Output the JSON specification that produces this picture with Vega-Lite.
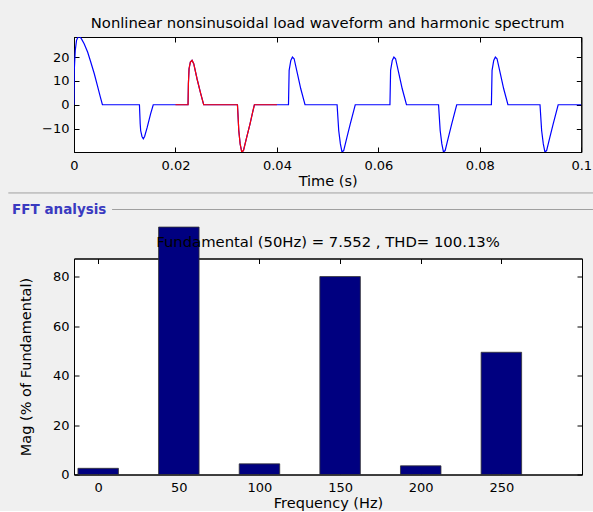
{
  "$schema": "https://vega.github.io/schema/vega-lite/v6.json",
  "padding": {"left": 7, "top": 15, "right": 0, "bottom": 0},
  "background": "#f0f0f0",
  "datasets": {
    "wave": [
      {"t": 0, "v": 0, "s": "load"}, {"t": 0.00005, "v": 14.4, "s": "load"}, {"t": 0.00025, "v": 22.8, "s": "load"}, {"t": 0.0005, "v": 27, "s": "load"}, {"t": 0.0008, "v": 28.4, "s": "load"}, {"t": 0.0012, "v": 28.4, "s": "load"}, {"t": 0.0015, "v": 27.5, "s": "load"}, {"t": 0.002, "v": 25.6, "s": "load"}, {"t": 0.0027, "v": 22, "s": "load"}, {"t": 0.0033, "v": 17.9, "s": "load"}, {"t": 0.004, "v": 13, "s": "load"}, {"t": 0.0046, "v": 8.1, "s": "load"}, {"t": 0.0052, "v": 3.2, "s": "load"}, {"t": 0.0056, "v": 0, "s": "load"},
      {"t": 0.0129, "v": 0, "s": "load"}, {"t": 0.01305, "v": -8, "s": "load"}, {"t": 0.01314, "v": -10.8, "s": "load"}, {"t": 0.0134, "v": -13.3, "s": "load"}, {"t": 0.01366, "v": -14.3, "s": "load"}, {"t": 0.01392, "v": -13.3, "s": "load"}, {"t": 0.01444, "v": -9.4, "s": "load"}, {"t": 0.0151, "v": -3.8, "s": "load"}, {"t": 0.01562, "v": 0, "s": "load"},
      {"t": 0.02, "v": 0, "s": "load"}, {"t": 0.02248, "v": 0, "s": "load"}, {"t": 0.02255, "v": 8.8, "s": "load"}, {"t": 0.02268, "v": 15.1, "s": "load"}, {"t": 0.02294, "v": 17.9, "s": "load"}, {"t": 0.02327, "v": 18.6, "s": "load"}, {"t": 0.0236, "v": 17.2, "s": "load"}, {"t": 0.02425, "v": 10.9, "s": "load"}, {"t": 0.0249, "v": 5.3, "s": "load"}, {"t": 0.02556, "v": 0, "s": "load"},
      {"t": 0.03222, "v": 0, "s": "load"}, {"t": 0.03235, "v": -5.2, "s": "load"}, {"t": 0.03248, "v": -10.8, "s": "load"}, {"t": 0.03275, "v": -16.4, "s": "load"}, {"t": 0.03307, "v": -19.8, "s": "load"}, {"t": 0.0334, "v": -19.2, "s": "load"}, {"t": 0.03405, "v": -13.6, "s": "load"}, {"t": 0.0347, "v": -8, "s": "load"}, {"t": 0.03523, "v": -3, "s": "load"}, {"t": 0.03556, "v": 0, "s": "load"},
      {"t": 0.04, "v": 0, "s": "load"}, {"t": 0.04228, "v": 0, "s": "load"}, {"t": 0.04241, "v": 14.4, "s": "load"}, {"t": 0.04274, "v": 18.6, "s": "load"}, {"t": 0.04306, "v": 20, "s": "load"}, {"t": 0.04339, "v": 19.3, "s": "load"}, {"t": 0.04404, "v": 13, "s": "load"}, {"t": 0.0447, "v": 6.7, "s": "load"}, {"t": 0.04554, "v": 0, "s": "load"},
      {"t": 0.05186, "v": 0, "s": "load"}, {"t": 0.05218, "v": -10.8, "s": "load"}, {"t": 0.05251, "v": -16.4, "s": "load"}, {"t": 0.05283, "v": -19.8, "s": "load"}, {"t": 0.05316, "v": -19.2, "s": "load"}, {"t": 0.05381, "v": -13.6, "s": "load"}, {"t": 0.05446, "v": -8, "s": "load"}, {"t": 0.05544, "v": 0, "s": "load"},
      {"t": 0.06228, "v": 0, "s": "load"}, {"t": 0.06241, "v": 14.4, "s": "load"}, {"t": 0.06274, "v": 18.6, "s": "load"}, {"t": 0.06306, "v": 20, "s": "load"}, {"t": 0.06339, "v": 19.3, "s": "load"}, {"t": 0.06404, "v": 13, "s": "load"}, {"t": 0.0647, "v": 6.7, "s": "load"}, {"t": 0.06554, "v": 0, "s": "load"},
      {"t": 0.07186, "v": 0, "s": "load"}, {"t": 0.07218, "v": -10.8, "s": "load"}, {"t": 0.07251, "v": -16.4, "s": "load"}, {"t": 0.07283, "v": -19.8, "s": "load"}, {"t": 0.07316, "v": -19.2, "s": "load"}, {"t": 0.07381, "v": -13.6, "s": "load"}, {"t": 0.07446, "v": -8, "s": "load"}, {"t": 0.07544, "v": 0, "s": "load"},
      {"t": 0.08228, "v": 0, "s": "load"}, {"t": 0.08241, "v": 14.4, "s": "load"}, {"t": 0.08274, "v": 18.6, "s": "load"}, {"t": 0.08306, "v": 20, "s": "load"}, {"t": 0.08339, "v": 19.3, "s": "load"}, {"t": 0.08404, "v": 13, "s": "load"}, {"t": 0.0847, "v": 6.7, "s": "load"}, {"t": 0.08554, "v": 0, "s": "load"},
      {"t": 0.09186, "v": 0, "s": "load"}, {"t": 0.09218, "v": -10.8, "s": "load"}, {"t": 0.09251, "v": -16.4, "s": "load"}, {"t": 0.09283, "v": -19.8, "s": "load"}, {"t": 0.09316, "v": -19.2, "s": "load"}, {"t": 0.09381, "v": -13.6, "s": "load"}, {"t": 0.09446, "v": -8, "s": "load"}, {"t": 0.09544, "v": 0, "s": "load"}, {"t": 0.1, "v": 0, "s": "load"},
      {"t": 0.02, "v": 0, "s": "cycle"}, {"t": 0.02248, "v": 0, "s": "cycle"}, {"t": 0.02255, "v": 8.8, "s": "cycle"}, {"t": 0.02268, "v": 15.1, "s": "cycle"}, {"t": 0.02294, "v": 17.9, "s": "cycle"}, {"t": 0.02327, "v": 18.6, "s": "cycle"}, {"t": 0.0236, "v": 17.2, "s": "cycle"}, {"t": 0.02425, "v": 10.9, "s": "cycle"}, {"t": 0.0249, "v": 5.3, "s": "cycle"}, {"t": 0.02556, "v": 0, "s": "cycle"},
      {"t": 0.03222, "v": 0, "s": "cycle"}, {"t": 0.03235, "v": -5.2, "s": "cycle"}, {"t": 0.03248, "v": -10.8, "s": "cycle"}, {"t": 0.03275, "v": -16.4, "s": "cycle"}, {"t": 0.03307, "v": -19.8, "s": "cycle"}, {"t": 0.0334, "v": -19.2, "s": "cycle"}, {"t": 0.03405, "v": -13.6, "s": "cycle"}, {"t": 0.0347, "v": -8, "s": "cycle"}, {"t": 0.03523, "v": -3, "s": "cycle"}, {"t": 0.03556, "v": 0, "s": "cycle"}, {"t": 0.04, "v": 0, "s": "cycle"}
    ],
    "fft": [
      {"f": 0, "mag": 2.5},
      {"f": 50, "mag": 100},
      {"f": 100, "mag": 4.3},
      {"f": 150, "mag": 80},
      {"f": 200, "mag": 3.5},
      {"f": 250, "mag": 49.4}
    ]
  },
  "vconcat": [
    {
      "width": 507.3,
      "height": 115,
      "title": {"text": "Nonlinear nonsinusoidal load waveform and harmonic spectrum", "fontSize": 14.8, "fontWeight": "normal", "font": "DejaVu Sans", "color": "#000", "offset": 6},
      "layer": [
        {
          "data": {"name": "wave"},
          "mark": {"type": "line", "strokeWidth": 1.2, "clip": true},
          "encoding": {
            "x": {"field": "t", "type": "quantitative", "scale": {"domain": [0, 0.1], "nice": false, "zero": false},
                  "axis": {"orient": "bottom", "values": [0, 0.02, 0.04, 0.06, 0.08, 0.1], "format": "~g", "title": "Time (s)", "titlePadding": 2}},
            "y": {"field": "v", "type": "quantitative", "scale": {"domain": [-19.8, 28.4], "nice": false, "zero": false},
                  "axis": {"orient": "left", "values": [-10, 0, 10, 20], "title": null}},
            "color": {"field": "s", "type": "nominal", "scale": {"domain": ["load", "cycle"], "range": ["#0000ff", "#ff0000"]}, "legend": null}
          }
        },
        {
          "data": {"name": "wave"},
          "mark": {"type": "line", "opacity": 0},
          "encoding": {
            "x": {"field": "t", "type": "quantitative", "axis": {"orient": "top", "values": [0, 0.02, 0.04, 0.06, 0.08, 0.1], "labels": false, "title": null}},
            "y": {"field": "v", "type": "quantitative", "axis": {"orient": "right", "values": [-10, 0, 10, 20], "labels": false, "title": null}}
          }
        },
        {
          "data": {"values": [{}]},
          "mark": {"type": "rule", "color": "#a0a0a0", "strokeWidth": 1},
          "encoding": {
            "x": {"datum": -0.01295, "type": "quantitative", "axis": null},
            "x2": {"datum": 0.1026},
            "y": {"datum": -36.97, "type": "quantitative", "axis": null}
          }
        }
      ],
      "resolve": {"axis": {"x": "independent", "y": "independent"}}
    },
    {
      "width": 508,
      "height": 216,
      "title": {"text": "Fundamental (50Hz) = 7.552 , THD= 100.13%", "fontSize": 14.8, "fontWeight": "normal", "font": "DejaVu Sans", "color": "#000", "offset": 9, "dy": 55.5, "zindex": 1},
      "layer": [
        {
          "data": {"name": "fft"},
          "mark": {"type": "bar", "width": 40.5, "fill": "#000080", "stroke": "#333333", "strokeWidth": 0.8},
          "encoding": {
            "x": {"field": "f", "type": "quantitative", "scale": {"domain": [-15, 300], "nice": false, "zero": false, "padding": 0},
                  "axis": {"orient": "bottom", "values": [0, 50, 100, 150, 200, 250], "title": "Frequency (Hz)", "titlePadding": 2}},
            "y": {"field": "mag", "type": "quantitative", "scale": {"domain": [0, 87.3], "nice": false, "padding": 0},
                  "axis": {"orient": "left", "values": [0, 20, 40, 60, 80], "title": "Mag (% of Fundamental)", "titlePadding": 19}}
          }
        },
        {
          "data": {"name": "fft"},
          "mark": {"type": "bar", "width": 40.5, "opacity": 0},
          "encoding": {
            "x": {"field": "f", "type": "quantitative", "axis": {"orient": "top", "values": [0, 50, 100, 150, 200, 250], "labels": false, "title": null}},
            "y": {"field": "mag", "type": "quantitative", "axis": {"orient": "right", "values": [0, 20, 40, 60, 80], "labels": false, "title": null}}
          }
        },
        {
          "data": {"values": [{}]},
          "mark": {"type": "rule", "color": "#a0a0a0", "strokeWidth": 1},
          "encoding": {
            "x": {"datum": 8.6, "type": "quantitative", "axis": null},
            "x2": {"datum": 306.8},
            "y": {"datum": 107.1, "type": "quantitative", "axis": null}
          }
        },
        {
          "data": {"values": [{"label": "FFT analysis"}]},
          "mark": {"type": "text", "align": "left", "baseline": "middle", "font": "DejaVu Sans", "fontSize": 13.5, "fontWeight": "bold", "color": "#3a3ac0"},
          "encoding": {
            "text": {"field": "label"},
            "x": {"datum": -53.4, "type": "quantitative", "axis": null},
            "y": {"datum": 106.9, "type": "quantitative", "axis": null}
          }
        }
      ],
      "resolve": {"axis": {"x": "independent", "y": "independent"}}
    }
  ],
  "spacing": 106.5,
  "bounds": "flush",
  "config": {
    "view": {"stroke": "#000000", "strokeWidth": 1, "fill": "#ffffff"},
    "axis": {
      "domainColor": "#000000", "tickColor": "#000000", "labelColor": "#000000", "titleColor": "#000000",
      "labelFont": "DejaVu Sans", "titleFont": "DejaVu Sans", "labelFontSize": 13, "titleFontSize": 14.5, "titleFontWeight": "normal",
      "grid": false, "tickSize": -5, "labelPadding": 12, "labelFlush": false, "labelOverlap": false
    },
    "axisY": {"labelPadding": 10}
  }
}
